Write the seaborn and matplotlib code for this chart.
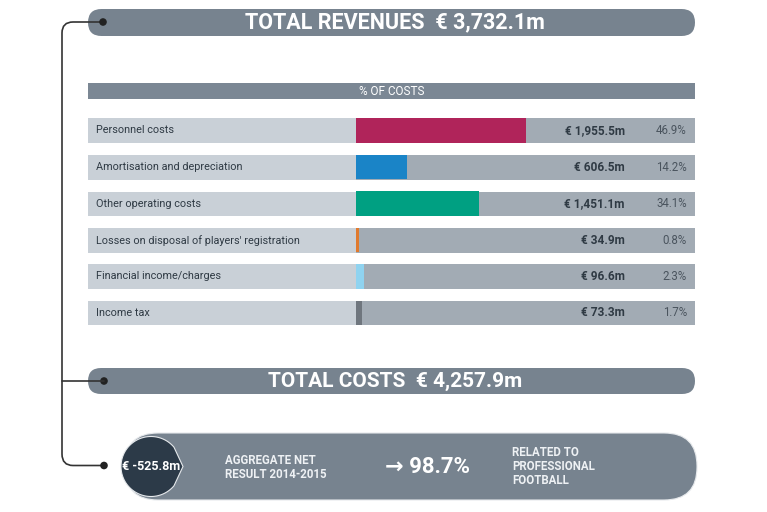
import matplotlib
matplotlib.use("Agg")
import matplotlib.pyplot as plt
import seaborn as sns
import pandas as pd
import numpy as np
from matplotlib.patches import FancyBboxPatch, Rectangle, Circle, Polygon, PathPatch
from matplotlib.path import Path

# ---------------- data ----------------
categories = ["Personnel costs", "Amortisation and depreciation", "Other operating costs",
              "Losses on disposal of players' registration", "Financial income/charges", "Income tax"]
amounts_m = [1955.5, 606.5, 1451.1, 34.9, 96.6, 73.3]
pct_of_costs = [46.9, 14.2, 34.1, 0.8, 2.3, 1.7]
total_revenues_m = 3732.1
total_costs_m = 4257.9
net_result_m = -525.8
pro_football_pct = 98.7

bar_colors = ["#b0245a", "#1a84c7", "#00a082", "#e07a2e", "#8fd3f0", "#6f767e"]

sns.set_theme(style="white")
plt.rcParams["font.family"] = ["Roboto", "DejaVu Sans"]

W, H = 767, 512
fig = plt.figure(figsize=(W / 100, H / 100), dpi=100)
fig.patch.set_facecolor("white")

bg = fig.add_axes([0, 0, 1, 1], zorder=0)
bg.set_xlim(0, W)
bg.set_ylim(H, 0)
bg.axis("off")

PILL = "#77838f"
LABEL_BG = "#c9d0d7"
BAR_BG = "#a2abb4"
DARK = "#2c3a48"

# top pill: total revenues
bg.add_patch(FancyBboxPatch((88, 9), 607, 27, boxstyle="round,pad=0,rounding_size=13.5",
                            fc=PILL, ec="none"))
bg.text(395, 22.5, f"TOTAL REVENUES  € {total_revenues_m:,.1f}m", color="white",
        fontsize=15.5, fontweight="bold", ha="center", va="center")

# header bar
bg.add_patch(Rectangle((88, 83), 607, 16, fc="#7b8794", ec="none"))
bg.text(392, 91.5, "% OF COSTS", color="white", fontsize=8.5, ha="center", va="center")

# rows
row_top = [118, 155, 191.5, 228, 264, 300.5]
row_h = 24.5
bar_left, bar_right = 356, 695
for i, cat in enumerate(categories):
    y = row_top[i]
    bg.add_patch(Rectangle((88, y), bar_left - 88, row_h, fc=LABEL_BG, ec="none"))
    bg.add_patch(Rectangle((bar_left, y), bar_right - bar_left, row_h, fc=BAR_BG, ec="none"))

# bar axes (seaborn)
top_px = row_top[0] - (36.5 - row_h) / 2
bot_px = row_top[-1] + row_h + (36.5 - row_h) / 2
bax = fig.add_axes([bar_left / W, 1 - bot_px / H, (bar_right - bar_left) / W, (bot_px - top_px) / H],
                   zorder=1)
df = pd.DataFrame({"category": categories, "pct": pct_of_costs})
sns.barplot(data=df, x="pct", y="category", hue="category", palette=bar_colors,
            width=row_h / 36.5, saturation=1, legend=False, ax=bax, linewidth=0)
bax.set_xlim(0, (bar_right - bar_left) / 3.62)
bax.patch.set_alpha(0)
bax.axis("off")

# text overlay
tx = fig.add_axes([0, 0, 1, 1], zorder=2)
tx.set_xlim(0, W)
tx.set_ylim(H, 0)
tx.axis("off")
tx.patch.set_alpha(0)
for i, cat in enumerate(categories):
    yc = row_top[i] + row_h / 2
    tx.text(96, yc, cat, fontsize=7.8, color="#2f3a44", ha="left", va="center")
    tx.text(625, yc, f"€ {amounts_m[i]:,.1f}m", fontsize=8.6, fontweight="bold",
            color="#2f3a44", ha="right", va="center")
    tx.text(687, yc, f"{pct_of_costs[i]:.1f}%", fontsize=8.3, color="#4a545e",
            ha="right", va="center")

# total costs pill
bg.add_patch(FancyBboxPatch((88, 368), 607, 26, boxstyle="round,pad=0,rounding_size=13",
                            fc=PILL, ec="none"))
bg.text(395, 381.5, f"TOTAL COSTS  € {total_costs_m:,.1f}m", color="white",
        fontsize=15, fontweight="bold", ha="center", va="center")

# bottom big pill
bg.add_patch(FancyBboxPatch((125, 433), 572, 67, boxstyle="round,pad=0,rounding_size=33",
                            fc=PILL, ec="#e6e9ec", lw=0.8))
# dark drop shape
cx, cy, r = 151, 466.5, 30
ang = np.linspace(np.deg2rad(40), np.deg2rad(320), 80)
pts = [(cx + r * np.cos(a), cy - r * np.sin(a)) for a in ang]
pts.append((cx + 32, cy))
tx.add_patch(Polygon(pts, closed=True, fc=DARK, ec="#e6e9ec", lw=0.8))
tx.text(151, 466.5, f"€ {net_result_m:,.1f}m", color="white", fontsize=9,
        fontweight="bold", ha="center", va="center")
tx.text(225, 467, "AGGREGATE NET\nRESULT 2014-2015", color="#eef1f4", fontsize=8.3,
        fontweight="bold", ha="left", va="center", linespacing=1.1)
tx.text(385, 467, f"→ {pro_football_pct:.1f}%", color="white", fontsize=16,
        fontweight="bold", ha="left", va="center")
tx.text(512, 467, "RELATED TO\nPROFESSIONAL\nFOOTBALL", color="#eef1f4", fontsize=8.3,
        fontweight="bold", ha="left", va="center", linespacing=1.1)

# connector line
LC = "#333333"
verts = [(103, 22), (73, 22), (62, 22), (62, 33), (62, 454), (62, 465.5), (73, 465.5), (104, 465.5)]
codes = [Path.MOVETO, Path.LINETO, Path.CURVE3, Path.CURVE3, Path.LINETO, Path.CURVE3, Path.CURVE3,
         Path.LINETO]
tx.add_patch(PathPatch(Path(verts, codes), fc="none", ec=LC, lw=1.2))
tx.plot([62, 104], [381, 381], color=LC, lw=1.2)
for (x, y) in [(103, 22), (104, 381), (104, 465.5)]:
    tx.add_patch(Circle((x, y), 3.8, fc="#222222", ec="none"))

fig.savefig("out.png", dpi=100, facecolor="white")
